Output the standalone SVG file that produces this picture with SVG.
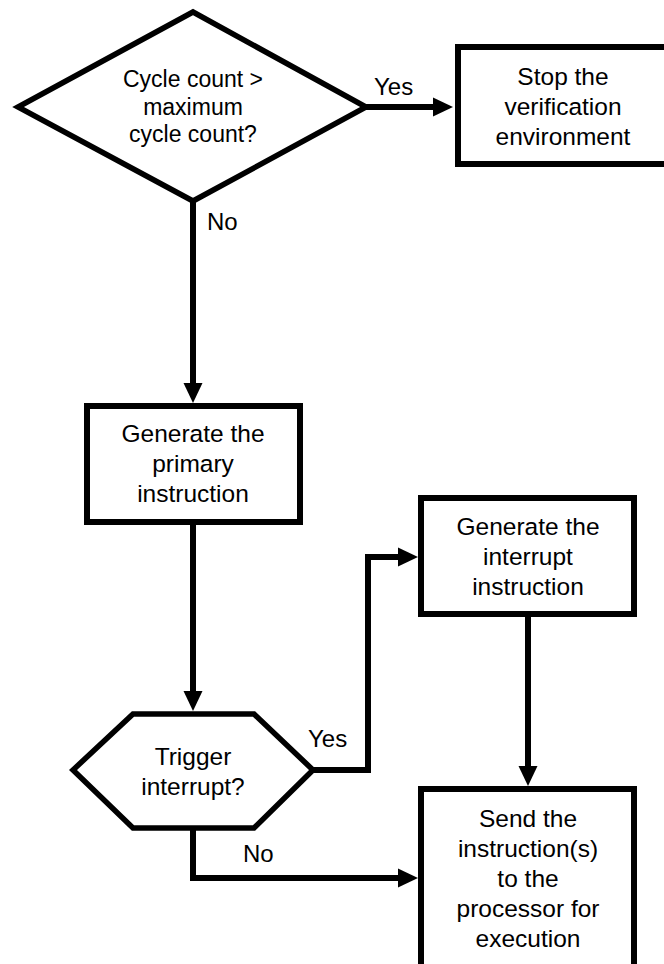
<svg xmlns="http://www.w3.org/2000/svg" width="664" height="964" viewBox="0 0 664 964">
<style>
.shape{fill:#fff;stroke:#000;stroke-width:6;stroke-linejoin:miter}
.dec{fill:#fff;stroke:#000;stroke-width:5.5;stroke-linejoin:miter}
.t{font-family:"Liberation Sans",Arial,sans-serif;font-size:24.5px;fill:#000;text-anchor:middle}
.td{font-family:"Liberation Sans",Arial,sans-serif;font-size:23px;fill:#000;text-anchor:middle}
.lbl{font-family:"Liberation Sans",Arial,sans-serif;font-size:24px;fill:#000}
.c{fill:none;stroke:#000;stroke-width:6;marker-end:url(#ah)}
</style>
<defs>
<marker id="ah" markerUnits="userSpaceOnUse" markerWidth="20" markerHeight="20" refX="10" refY="9.5" orient="auto" viewBox="0 0 20 19">
<path d="M0,0 L20,9.5 L0,19 z" fill="#000"/>
</marker>
</defs>
<rect width="664" height="964" fill="#fff"/>
<g id="connectors">
<path class="c" d="M366,107 H443"/>
<path class="c" d="M193,201 V393"/>
<path class="c" d="M193,525 V701"/>
<path class="c" d="M313,770 H368 V557 H408"/>
<path class="c" d="M528,617 V776"/>
<path class="c" d="M193,828 V878 H408"/>
</g>
<g id="decision-cycle">
<polygon class="dec" points="193,12 366,107 193,201 18,107"/>
<text class="td" x="193" y="87">Cycle count &gt;</text>
<text class="td" x="193" y="115">maximum</text>
<text class="td" x="193" y="142">cycle count?</text>
</g>
<g id="stop">
<rect class="shape" x="458" y="47" width="210" height="117"/>
<text class="t" x="563" y="85">Stop the</text>
<text class="t" x="563" y="115">verification</text>
<text class="t" x="563" y="145">environment</text>
</g>
<g id="gen-primary">
<rect class="shape" x="87" y="406" width="213" height="116"/>
<text class="t" x="193" y="442">Generate the</text>
<text class="t" x="193" y="472">primary</text>
<text class="t" x="193" y="502">instruction</text>
</g>
<g id="gen-interrupt">
<rect class="shape" x="421" y="498" width="213" height="116"/>
<text class="t" x="528" y="535">Generate the</text>
<text class="t" x="528" y="565">interrupt</text>
<text class="t" x="528" y="595">instruction</text>
</g>
<g id="trigger">
<polygon class="dec" points="73,770 133,714 254,714 313,770 254,828 133,828"/>
<text class="t" x="193" y="765">Trigger</text>
<text class="t" x="193" y="795">interrupt?</text>
</g>
<g id="send">
<rect class="shape" x="421" y="789" width="213" height="220"/>
<text class="t" x="528" y="827">Send the</text>
<text class="t" x="528" y="857">instruction(s)</text>
<text class="t" x="528" y="887">to the</text>
<text class="t" x="528" y="917">processor for</text>
<text class="t" x="528" y="947">execution</text>
</g>
<g id="labels">
<text class="lbl" x="374" y="95">Yes</text>
<text class="lbl" x="207" y="230">No</text>
<text class="lbl" x="308" y="747">Yes</text>
<text class="lbl" x="243" y="862">No</text>
</g>
</svg>
